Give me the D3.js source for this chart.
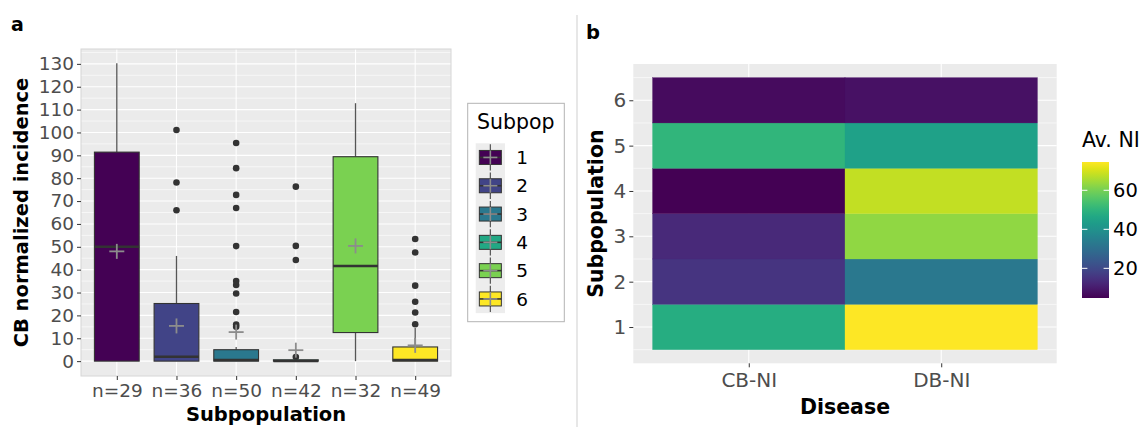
<!DOCTYPE html>
<html>
<head>
<meta charset="utf-8">
<script src="https://cdn.jsdelivr.net/npm/d3@7"></script>
<style>
  body { margin: 0; background: #fff; }
  svg { display: block; font-family: "DejaVu Sans", sans-serif; }
</style>
</head>
<body>
<div id="chart"></div>
<script>
// panel a: boxplot summaries
const subpops = ['1', '2', '3', '4', '5', '6'];
const nLabels = ['n=29', 'n=36', 'n=50', 'n=42', 'n=32', 'n=49'];
const boxColors = ['#440154', '#414487', '#2A788E', '#22A884', '#7AD151', '#FDE725'];
const q1 = [0, 0, 0, 0, 12.5, 0];
const medians = [50, 1.9, 0.5, 0, 41.6, 0.5];
const q3 = [91.4, 25.2, 5.0, 0.6, 89.4, 6.2];
const whiskerLo = [0, 0, 0, 0, 0, 0];
const whiskerHi = [130.3, 46, 6.2, 0.6, 112.8, 14.5];
const means = [48, 15.4, 12.7, 4.8, 50.4, 6.9];
const outliers = [
  [],
  [66, 78.1, 101.1],
  [15, 16, 21.5, 29.6, 33.3, 35, 50.3, 67, 72.7, 84.4, 95.4],
  [1.8, 44.2, 50.4, 76.3],
  [],
  [16.1, 21.3, 26, 33, 47.5, 53.4]
];
const yTicksA = d3.range(0, 131, 10);

// panel b: average normalized incidence per subpopulation
const diseases = ['CB-NI', 'DB-NI'];
const heatCB = [48, 15.4, 12.7, 4.8, 50.4, 6.9];
const heatDB = [74.5, 32.8, 63, 68, 44.5, 8];
const colorbarTicks = [20, 40, 60];

const width = 1148, height = 427;
const svg = d3.select('#chart').append('svg')
    .attr('width', width)
    .attr('height', height);

const grey20 = '#333333';
const tickGrey = '#4d4d4d';
const panelBg = '#ebebeb';

// ---------- panel a ----------
const pa = {left: 81, right: 451, top: 49, bottom: 376};
const xA = d3.scalePoint().domain(subpops).range([pa.left, pa.right]).padding(0.6);
const yA = d3.scaleLinear().domain([-6.5, 136.5]).range([pa.bottom, pa.top]);
const boxW = xA.step() * 0.75;

const ga = svg.append('g');
ga.append('rect')
    .attr('x', pa.left).attr('y', pa.top)
    .attr('width', pa.right - pa.left).attr('height', pa.bottom - pa.top)
    .attr('fill', panelBg);

// minor then major grid
ga.append('g').selectAll('line')
    .data(d3.range(5, 136, 10))
    .join('line')
    .attr('x1', pa.left).attr('x2', pa.right)
    .attr('y1', d => yA(d)).attr('y2', d => yA(d))
    .attr('stroke', '#fff').attr('stroke-width', 0.6);
ga.append('g').selectAll('line')
    .data(yTicksA)
    .join('line')
    .attr('x1', pa.left).attr('x2', pa.right)
    .attr('y1', d => yA(d)).attr('y2', d => yA(d))
    .attr('stroke', '#fff').attr('stroke-width', 1.1);
ga.append('g').selectAll('line')
    .data(subpops)
    .join('line')
    .attr('x1', d => xA(d)).attr('x2', d => xA(d))
    .attr('y1', pa.top).attr('y2', pa.bottom)
    .attr('stroke', '#fff').attr('stroke-width', 1.1);

const boxes = subpops.map((s, i) => ({
  s, i, q1: q1[i], med: medians[i], q3: q3[i],
  lo: whiskerLo[i], hi: whiskerHi[i], mean: means[i], out: outliers[i], col: boxColors[i]
}));

// outliers
ga.append('g').selectAll('circle')
    .data(boxes.flatMap(b => b.out.map(v => ({s: b.s, v}))))
    .join('circle')
    .attr('cx', d => xA(d.s)).attr('cy', d => yA(d.v))
    .attr('r', 3.3)
    .attr('fill', grey20);

const bg = ga.append('g').selectAll('g')
    .data(boxes)
    .join('g');
bg.append('line')
    .attr('x1', d => xA(d.s)).attr('x2', d => xA(d.s))
    .attr('y1', d => yA(d.q3)).attr('y2', d => yA(d.hi))
    .attr('stroke', '#555').attr('stroke-width', 1.3);
bg.append('line')
    .attr('x1', d => xA(d.s)).attr('x2', d => xA(d.s))
    .attr('y1', d => yA(d.q1)).attr('y2', d => yA(d.lo))
    .attr('stroke', '#555').attr('stroke-width', 1.3);
bg.append('rect')
    .attr('x', d => xA(d.s) - boxW / 2)
    .attr('y', d => yA(d.q3))
    .attr('width', boxW)
    .attr('height', d => yA(d.q1) - yA(d.q3))
    .attr('fill', d => d.col)
    .attr('stroke', grey20).attr('stroke-width', 1.1);
bg.append('line')
    .attr('x1', d => xA(d.s) - boxW / 2).attr('x2', d => xA(d.s) + boxW / 2)
    .attr('y1', d => yA(d.med)).attr('y2', d => yA(d.med))
    .attr('stroke', grey20).attr('stroke-width', 2.4);

// mean crosses
function cross(sel, arm, color, sw) {
  sel.append('line').attr('x1', -arm).attr('x2', arm).attr('y1', 0).attr('y2', 0)
      .attr('stroke', color).attr('stroke-width', sw);
  sel.append('line').attr('x1', 0).attr('x2', 0).attr('y1', -arm).attr('y2', arm)
      .attr('stroke', color).attr('stroke-width', sw);
}
ga.append('g').selectAll('g')
    .data(boxes)
    .join('g')
    .attr('transform', d => `translate(${xA(d.s)},${yA(d.mean)})`)
    .call(cross, 7.5, '#8c8c8c', 1.8);

// panel border
ga.append('rect')
    .attr('x', pa.left).attr('y', pa.top)
    .attr('width', pa.right - pa.left).attr('height', pa.bottom - pa.top)
    .attr('fill', 'none').attr('stroke', '#d6d6d6').attr('stroke-width', 1);

// axes
const axAy = ga.append('g')
    .attr('transform', `translate(${pa.left},0)`)
    .call(d3.axisLeft(yA).tickValues(yTicksA).tickSize(4).tickPadding(3));
const axAx = ga.append('g')
    .attr('transform', `translate(0,${pa.bottom})`)
    .call(d3.axisBottom(xA).tickSize(4).tickPadding(3).tickFormat((d, i) => nLabels[i]));
[axAy, axAx].forEach(ax => {
  ax.select('.domain').remove();
  ax.selectAll('.tick line').attr('stroke', grey20);
  ax.selectAll('.tick text')
      .attr('fill', tickGrey)
      .attr('font-family', '"DejaVu Sans", sans-serif')
      .attr('font-size', 18.5);
});
axAx.selectAll('.tick text').attr('dy', '0.78em').attr('y', 7);

svg.append('text')
    .attr('transform', `translate(28,${(pa.top + pa.bottom) / 2}) rotate(-90)`)
    .attr('text-anchor', 'middle')
    .attr('font-size', 19.5).attr('font-weight', 'bold')
    .text('CB normalized incidence');
svg.append('text')
    .attr('x', (pa.left + pa.right) / 2).attr('y', 421)
    .attr('text-anchor', 'middle')
    .attr('font-size', 19.5).attr('font-weight', 'bold')
    .text('Subpopulation');
svg.append('text')
    .attr('x', 11).attr('y', 31)
    .attr('font-size', 19).attr('font-weight', 'bold')
    .text('a');

// legend a
const lg = svg.append('g');
lg.append('rect')
    .attr('x', 467.7).attr('y', 103.3).attr('width', 96.6).attr('height', 218.4)
    .attr('fill', '#fff').attr('stroke', '#b3b3b3').attr('stroke-width', 1);
lg.append('text')
    .attr('x', 477).attr('y', 128.5)
    .attr('font-size', 20.5)
    .text('Subpop');
const keyH = 28.3, keyTop = 143.3, keyX = 475.7, keyW = 29.3;
lg.append('rect')
    .attr('x', keyX).attr('y', keyTop).attr('width', keyW).attr('height', keyH * subpops.length)
    .attr('fill', '#ededed');
const keys = lg.selectAll('g.key')
    .data(boxes)
    .join('g')
    .attr('class', 'key')
    .attr('transform', (d, i) => `translate(${keyX + keyW / 2},${keyTop + keyH * (i + 0.5)})`);
keys.append('line')
    .attr('x1', 0).attr('x2', 0).attr('y1', -keyH / 2 + 1).attr('y2', keyH / 2 - 1)
    .attr('stroke', '#555').attr('stroke-width', 1.2);
keys.append('rect')
    .attr('x', -11).attr('y', -7).attr('width', 22).attr('height', 14)
    .attr('fill', d => d.col).attr('stroke', grey20).attr('stroke-width', 1);
keys.append('line')
    .attr('x1', -11).attr('x2', 11).attr('y1', 0).attr('y2', 0)
    .attr('stroke', grey20).attr('stroke-width', 1.6);
keys.append('g').call(cross, 7, '#8c8c8c', 1.6);
keys.append('text')
    .attr('x', 26).attr('dy', '0.36em')
    .attr('font-size', 18.5)
    .text(d => d.s);

// separator
svg.append('line')
    .attr('x1', 577).attr('x2', 577).attr('y1', 15).attr('y2', height)
    .attr('stroke', '#cfcfcf').attr('stroke-width', 1);

// ---------- panel b ----------
const pb = {left: 633.3, right: 1056.7, top: 64, bottom: 363.3};
const xB = d3.scalePoint().domain(diseases).range([pb.left, pb.right]).padding(0.6);
const yB = d3.scaleLinear().domain([0.2, 6.8]).range([pb.bottom, pb.top]);
const allHeat = heatCB.concat(heatDB);
const color = d3.scaleSequential(d3.interpolateViridis).domain(d3.extent(allHeat));

const gb = svg.append('g');
gb.append('rect')
    .attr('x', pb.left).attr('y', pb.top)
    .attr('width', pb.right - pb.left).attr('height', pb.bottom - pb.top)
    .attr('fill', panelBg);
gb.append('g').selectAll('line')
    .data(d3.range(0.5, 6.6, 1))
    .join('line')
    .attr('x1', pb.left).attr('x2', pb.right)
    .attr('y1', d => yB(d)).attr('y2', d => yB(d))
    .attr('stroke', '#fff').attr('stroke-width', 0.6);
gb.append('g').selectAll('line')
    .data(d3.range(1, 7))
    .join('line')
    .attr('x1', pb.left).attr('x2', pb.right)
    .attr('y1', d => yB(d)).attr('y2', d => yB(d))
    .attr('stroke', '#fff').attr('stroke-width', 1.1);
gb.append('g').selectAll('line')
    .data(diseases)
    .join('line')
    .attr('x1', d => xB(d)).attr('x2', d => xB(d))
    .attr('y1', pb.top).attr('y2', pb.bottom)
    .attr('stroke', '#fff').attr('stroke-width', 1.1);

const tiles = [];
subpops.forEach((s, i) => {
  tiles.push({dis: diseases[0], sub: +s, v: heatCB[i]});
  tiles.push({dis: diseases[1], sub: +s, v: heatDB[i]});
});
const step = xB.step();
gb.append('g').selectAll('rect')
    .data(tiles)
    .join('rect')
    .attr('x', d => xB(d.dis) - step / 2)
    .attr('y', d => yB(d.sub + 0.5))
    .attr('width', step)
    .attr('height', d => yB(d.sub - 0.5) - yB(d.sub + 0.5))
    .attr('fill', d => color(d.v))
    .attr('stroke', d => color(d.v)).attr('stroke-width', 0.3);

const axBy = gb.append('g')
    .attr('transform', `translate(${pb.left},0)`)
    .call(d3.axisLeft(yB).tickValues(d3.range(1, 7)).tickFormat(d3.format('d'))
        .tickSize(4).tickPadding(3));
const axBx = gb.append('g')
    .attr('transform', `translate(0,${pb.bottom})`)
    .call(d3.axisBottom(xB).tickSize(4).tickPadding(3));
[axBy, axBx].forEach(ax => {
  ax.select('.domain').remove();
  ax.selectAll('.tick line').attr('stroke', grey20);
  ax.selectAll('.tick text')
      .attr('fill', tickGrey)
      .attr('font-family', '"DejaVu Sans", sans-serif')
      .attr('font-size', 20);
});
axBx.selectAll('.tick text').attr('dy', '0.78em').attr('y', 8);

svg.append('text')
    .attr('transform', `translate(603,${(pb.top + pb.bottom) / 2}) rotate(-90)`)
    .attr('text-anchor', 'middle')
    .attr('font-size', 20.5).attr('font-weight', 'bold')
    .text('Subpopulation');
svg.append('text')
    .attr('x', (pb.left + pb.right) / 2).attr('y', 413.5)
    .attr('text-anchor', 'middle')
    .attr('font-size', 20.5).attr('font-weight', 'bold')
    .text('Disease');
svg.append('text')
    .attr('x', 586).attr('y', 38.5)
    .attr('font-size', 19.5).attr('font-weight', 'bold')
    .text('b');

// colorbar
const cb = {x: 1082, w: 27, top: 162, bottom: 298};
const yC = d3.scaleLinear().domain(color.domain()).range([cb.bottom, cb.top]);
const defs = svg.append('defs');
const grad = defs.append('linearGradient')
    .attr('id', 'viridisGrad')
    .attr('x1', 0).attr('x2', 0).attr('y1', 1).attr('y2', 0);
grad.selectAll('stop')
    .data(d3.range(0, 1.001, 0.05))
    .join('stop')
    .attr('offset', d => d)
    .attr('stop-color', d => d3.interpolateViridis(d));
svg.append('rect')
    .attr('x', cb.x).attr('y', cb.top)
    .attr('width', cb.w).attr('height', cb.bottom - cb.top)
    .attr('fill', 'url(#viridisGrad)');
const cbt = svg.append('g').selectAll('g')
    .data(colorbarTicks)
    .join('g')
    .attr('transform', d => `translate(0,${yC(d)})`);
cbt.append('line')
    .attr('x1', cb.x).attr('x2', cb.x + 5.4)
    .attr('stroke', '#fff').attr('stroke-width', 1);
cbt.append('line')
    .attr('x1', cb.x + cb.w - 5.4).attr('x2', cb.x + cb.w)
    .attr('stroke', '#fff').attr('stroke-width', 1);
cbt.append('text')
    .attr('x', cb.x + cb.w + 4).attr('dy', '0.36em')
    .attr('font-size', 19.5).attr('fill', '#000')
    .text(d => d);
svg.append('text')
    .attr('x', 1082).attr('y', 147)
    .attr('font-size', 20.5)
    .text('Av. NI');
</script>
</body>
</html>
